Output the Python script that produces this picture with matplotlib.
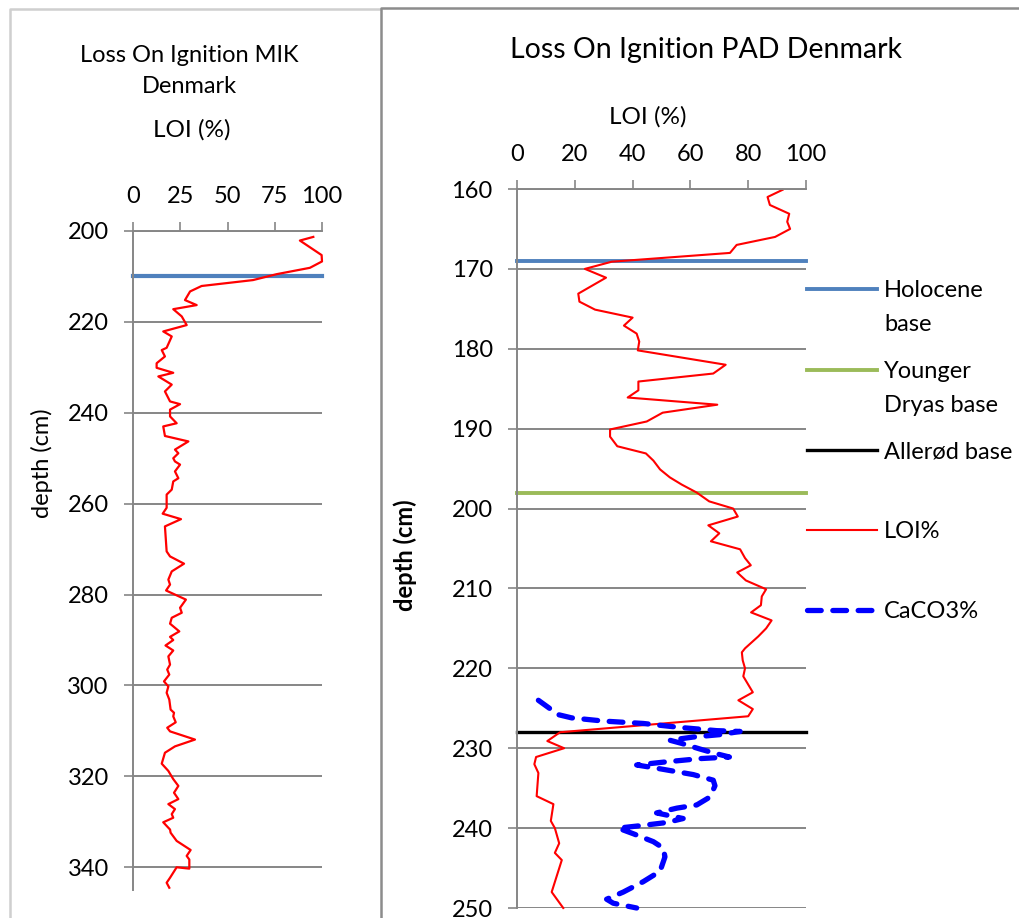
import matplotlib
matplotlib.use("Agg")
import matplotlib.pyplot as plt
from matplotlib.lines import Line2D

plt.rcParams['font.family'] = ['Lato', 'DejaVu Sans']

# ---- MIK core (left) ----
mik_depth = [201.3, 202.1, 205.3, 206.7, 208.1, 209.5, 210.8, 212.1, 213.3, 215.2,
             216.3, 217.2, 218.8, 220.7, 222.1, 223.2, 225.7, 226.2, 227.6, 229.1,
             230.1, 231.2, 232.0, 233.8, 235.3, 237.5, 238.1, 239.3, 240.8, 242.3,
             243.0, 245.1, 246.3, 248.1, 248.9, 250.0, 250.7, 251.4, 252.9, 254.4,
             255.1, 256.9, 258.0, 260.9, 262.2, 263.4, 265.0, 270.5, 271.6, 273.2,
             274.9, 276.7, 277.8, 279.1, 281.1, 282.9, 284.0, 285.1, 286.4, 288.1,
             289.3, 290.0, 291.2, 292.3, 293.6, 295.4, 296.5, 297.6, 299.1, 300.2,
             301.6, 303.1, 305.3, 306.0, 306.8, 308.1, 309.3, 310.1, 311.9, 313.4,
             314.8, 317.2, 318.8, 320.6, 322.1, 323.6, 325.0, 326.1, 327.2, 328.3,
             329.1, 330.1, 331.7, 332.4, 334.2, 336.2, 337.5, 338.3, 340.3, 340.0,
             342.3, 343.4, 344.5]
mik_loi = [95.4, 88.3, 99.8, 100.0, 93.6, 76.0, 63.5, 36.3, 30.2, 27.5,
           33.7, 21.3, 25.8, 28.4, 16.0, 20.5, 17.8, 15.2, 16.9, 12.5,
           12.5, 21.3, 13.4, 20.5, 16.9, 19.6, 24.9, 19.6, 19.6, 23.1,
           16.0, 16.9, 29.3, 22.2, 24.0, 21.3, 22.2, 24.9, 22.2, 24.0,
           21.3, 20.5, 17.8, 17.8, 15.7, 25.4, 16.9, 17.8, 19.6, 27.0,
           20.5, 18.7, 19.6, 17.5, 28.0, 24.9, 25.8, 20.5, 19.6, 24.5,
           19.6, 21.3, 17.2, 21.3, 18.7, 19.6, 18.1, 19.2, 16.4, 18.7,
           17.8, 19.2, 19.9, 21.7, 21.3, 22.6, 18.1, 19.6, 32.8, 22.2,
           16.9, 15.2, 18.7, 21.3, 24.0, 21.7, 24.0, 18.7, 22.2, 20.5,
           21.3, 16.0, 19.6, 19.9, 23.1, 30.5, 28.4, 29.8, 29.8, 23.1,
           19.6, 17.8, 19.2]
mik_holocene = 210

# ---- PAD core (right) ----
pad_depth = [160.1, 161.0, 162.0, 163.1, 164.1, 165.0, 166.0, 167.0, 168.0, 169.1,
             170.0, 171.1, 173.1, 174.1, 175.1, 176.1, 177.1, 178.1, 179.1, 180.2,
             182.0, 183.1, 184.1, 185.2, 186.1, 187.0, 188.0, 189.1, 190.1, 191.0,
             192.2, 193.1, 194.0, 195.1, 196.1, 197.0, 198.0, 199.1, 200.0, 201.0,
             202.1, 203.1, 204.1, 205.1, 206.2, 207.1, 208.0, 209.0, 210.1, 211.0,
             212.1, 213.0, 214.0, 215.0, 216.0, 217.5, 218.0, 219.0, 220.0, 221.0,
             223.0, 224.0, 225.1, 226.0, 228.0, 229.1, 230.0, 231.1, 232.0, 233.1,
             236.0, 237.0, 239.1, 240.0, 241.9, 243.1, 244.0, 248.0, 250.0]
pad_loi = [91.9, 86.7, 87.5, 94.2, 93.5, 94.5, 89.3, 76.0, 73.7, 32.8,
           23.5, 30.8, 21.2, 21.6, 27.0, 40.0, 37.0, 41.4, 42.3, 41.8,
           72.2, 67.9, 42.0, 42.0, 38.3, 69.3, 50.4, 44.9, 32.2, 32.2,
           34.7, 44.6, 47.2, 49.5, 52.9, 57.0, 62.2, 66.5, 74.8, 76.4,
           66.2, 70.0, 67.1, 77.2, 78.9, 80.9, 76.2, 79.2, 86.2, 84.7,
           84.4, 81.0, 88.1, 86.2, 83.5, 78.9, 77.8, 78.1, 78.9, 78.3,
           81.6, 76.6, 81.6, 80.0, 14.9, 10.5, 16.3, 6.6, 6.0, 7.4,
           6.8, 12.6, 11.7, 13.1, 14.6, 13.1, 15.5, 12.0, 16.0]

caco3_depth = [224.0, 225.8, 226.2, 226.6, 226.9, 227.4, 227.8, 227.9, 228.3, 228.6,
               229.0, 229.4, 230.1, 230.7, 231.1, 231.3, 231.7, 232.1, 232.5, 233.3,
               234.0, 234.7, 236.1, 237.1, 237.5, 238.1, 238.8, 239.3, 239.7, 240.0,
               240.7, 241.7, 242.5, 243.6, 245.4, 246.7, 248.0, 248.9, 249.4, 250.0]
caco3 = [7.4, 14.3, 18.9, 29.9, 43.7, 56.4, 69.1, 77.2, 70.2, 61.0,
         52.9, 57.0, 63.3, 69.1, 73.5, 63.3, 51.8, 41.4, 48.3, 61.0,
         67.9, 68.5, 66.8, 62.2, 55.3, 48.3, 57.5, 51.8, 42.6, 35.0,
         40.2, 47.2, 50.6, 51.2, 49.5, 43.7, 36.8, 31.0, 33.3, 41.4]

pad_holocene = 169
pad_younger_dryas = 198
pad_allerod = 228

GRAY = '#868686'
W, H = 1019, 918
CACO3_DASH = (2.6, 2.2)


def px(x, y):
    return x / W, 1 - y / H


def style_axes(ax, xticks, yticks, ylim):
    ax.set_xlim(0, 100)
    ax.set_ylim(ylim[1], ylim[0])
    ax.set_xticks(xticks)
    ax.set_yticks(yticks)
    ax.xaxis.tick_top()
    for side in ['right', 'bottom']:
        ax.spines[side].set_visible(False)
    for side in ['top', 'left']:
        ax.spines[side].set_color(GRAY)
        ax.spines[side].set_linewidth(1.4)
    ax.tick_params(direction='out', length=6.5, width=1.2, color=GRAY,
                   labelsize=17, pad=11, labelcolor='black')
    ax.yaxis.grid(True, color=GRAY, linewidth=1.4)
    ax.set_axisbelow(True)
    ax.patch.set_alpha(0)


fig = plt.figure(figsize=(10.19, 9.18), dpi=100)

# panel frames
fig.add_artist(Line2D([10 / W, 10 / W, 380 / W], [0, px(0, 9)[1], px(0, 9)[1]],
                      color='#cfcfcf', lw=1.8))
fig.add_artist(Line2D([381 / W, 381 / W, 1.0], [0, px(0, 8)[1], px(0, 8)[1]],
                      color='#8c8c8c', lw=1.8))

# left: MIK
ax1 = fig.add_axes([133 / W, 1 - 890 / H, 189 / W, (890 - 231) / H])
style_axes(ax1, [0, 25, 50, 75, 100], range(200, 341, 20), (200, 345))
ax1.plot([0, 100], [mik_holocene, mik_holocene], color='#4F81BD', lw=3, clip_on=False)
ax1.plot(mik_loi, mik_depth, color='#FF0000', lw=1.6, clip_on=False)

fig.text(*px(189, 71), 'Loss On Ignition MIK\nDenmark', ha='center', va='center',
         fontsize=17, linespacing=1.55)
fig.text(*px(192, 130), 'LOI (%)', ha='center', va='center', fontsize=17.5)
fig.text(*px(42, 463), 'depth (cm)', ha='center', va='center', fontsize=17, rotation=90)

# right: PAD
ax2 = fig.add_axes([517 / W, 1 - 908 / H, 289 / W, (908 - 189) / H])
style_axes(ax2, range(0, 101, 20), range(160, 251, 10), (160, 250))
series = [
    ax2.plot([0, 100], [pad_holocene, pad_holocene], color='#4F81BD', lw=2.8,
             clip_on=False, label='Holocene\nbase')[0],
    ax2.plot([0, 100], [pad_younger_dryas, pad_younger_dryas], color='#9BBB59',
             lw=2.8, clip_on=False, label='Younger\nDryas base')[0],
    ax2.plot([0, 100], [pad_allerod, pad_allerod], color='black', lw=2.4,
             clip_on=False, label='Allerød base')[0],
    ax2.plot(pad_loi, pad_depth, color='#FF0000', lw=1.5, clip_on=False,
             label='LOI%')[0],
    ax2.plot(caco3, caco3_depth, color='#0000FF', lw=3.8, clip_on=False,
             dashes=CACO3_DASH, dash_capstyle='round', label='CaCO3%')[0],
]

fig.text(*px(706, 50), 'Loss On Ignition PAD Denmark', ha='center', va='center',
         fontsize=20.5)
fig.text(*px(648, 117), 'LOI (%)', ha='center', va='center', fontsize=17.5)
fig.text(*px(405, 555), 'depth (cm)', ha='center', va='center', fontsize=17,
         rotation=90, fontweight='bold')

# legend, handle level with the first line of each label
legend_rows = [289, 370, 450, 530, 610]
for line, y in zip(series, legend_rows):
    x0, yy = px(807, y)
    x1, _ = px(877, y)
    dashed = line.get_label() == 'CaCO3%'
    fig.add_artist(Line2D([x0, x1], [yy, yy], color=line.get_color(),
                          lw=line.get_linewidth(),
                          dashes=CACO3_DASH if dashed else (None, None),
                          dash_capstyle='round'))
    fig.text(*px(884, y - 9), line.get_label(), ha='left', va='top', fontsize=17,
             linespacing=1.75)

fig.savefig('out.png', dpi=100)
